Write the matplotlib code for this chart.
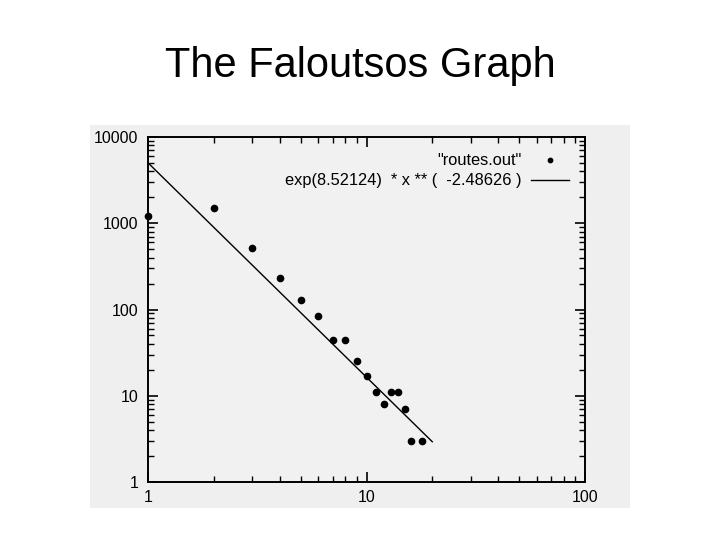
import matplotlib.pyplot as plt
from matplotlib.patches import Rectangle

# datos (routes.out)
deg = [1, 2, 3, 4, 5, 6, 7, 8, 9, 10, 11, 12, 13, 14, 15, 16, 18]
count = [1220, 1490, 510, 234, 129, 84, 44, 44, 25, 17, 11, 8, 11, 11, 7, 3, 3]

# recta ajustada: exp(8.52124) * x ** (-2.48626), de x=1 a x=20
fit_x = [1, 20]
fit_y = [5020, 2.93]
fit_label = 'exp(8.52124)  * x ** (  -2.48626 )'

plt.rcParams['font.family'] = ['Liberation Sans', 'DejaVu Sans']

fig = plt.figure(figsize=(7.2, 5.4), dpi=100)
fig.patch.set_facecolor('white')

# fondo gris del escaneo
fig.patches.append(Rectangle((90/720, 1-508/540), 540/720, 383/540,
                             transform=fig.transFigure, facecolor='#efefef',
                             edgecolor='none', zorder=-5))

fig.text(0.5, 1-66/540, 'The Faloutsos Graph', ha='center', va='center',
         fontsize=30)

ax = fig.add_axes([148/720, 1-482/540, 437/720, 345/540])
ax.set_facecolor('#f1f1f1')
ax.set_xscale('log')
ax.set_yscale('log')
ax.set_xlim(1, 100)
ax.set_ylim(1, 10000)

ax.plot(deg, count, 'o', color='black', ms=4.5, clip_on=False, label='"routes.out"')
ax.plot(fit_x, fit_y, '-', color='black', lw=1, label=fit_label)

ax.set_xticks([1, 10, 100])
ax.set_xticklabels(['1', '10', '100'])
ax.set_yticks([1, 10, 100, 1000, 10000])
ax.set_yticklabels(['1', '10', '100', '1000', '10000'])
ax.tick_params(which='both', direction='in', top=True, right=True,
               labelsize=11.5, color='black')
ax.tick_params(which='major', length=7, width=1.2)
ax.tick_params(which='minor', length=4, width=1)
ax.tick_params(axis='y', pad=7)
ax.tick_params(axis='x', pad=6)
for s in ax.spines.values():
    s.set_linewidth(1.4)

ax.legend(loc='upper right', markerfirst=False, frameon=False, fontsize=11.8,
          handlelength=2.3, handletextpad=0.6, labelspacing=0.3,
          borderaxespad=0.6, markerscale=0.7)

fig.savefig('out.png', dpi=100)
